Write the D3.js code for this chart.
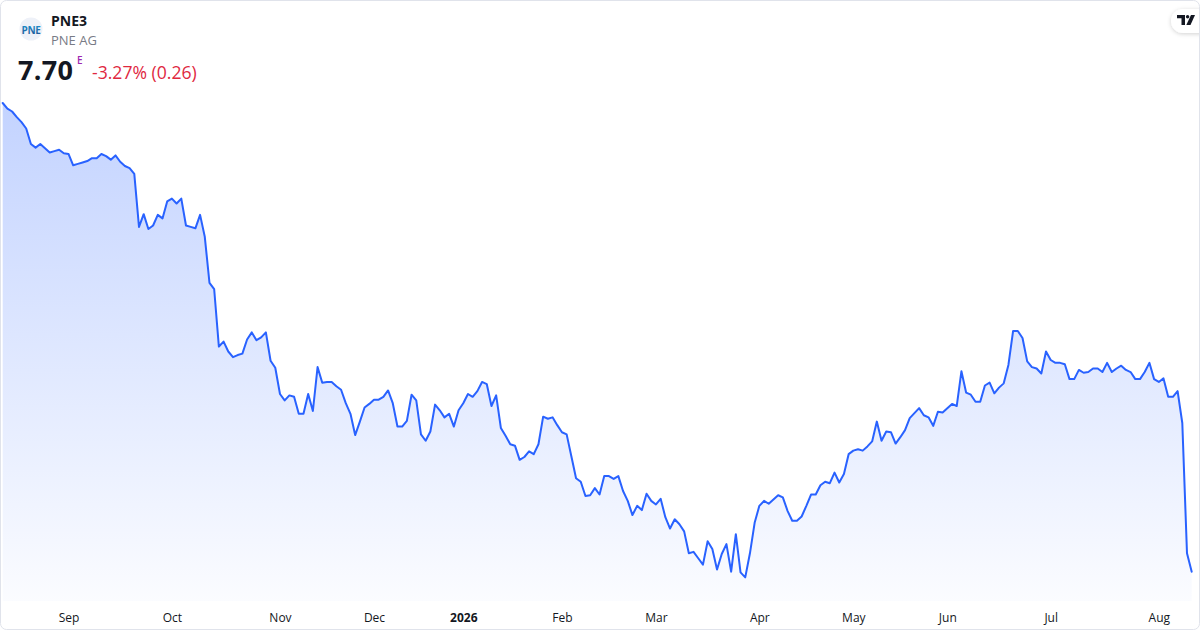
<!DOCTYPE html>
<html>
<head>
<meta charset="utf-8">
<script src="https://cdn.jsdelivr.net/npm/d3@7/dist/d3.min.js"></script>
<style>
  html, body { margin: 0; padding: 0; background: #ffffff; }
  svg { display: block; font-family: "Open Sans", "Noto Sans", sans-serif; }
</style>
</head>
<body>
<svg id="chart" width="1200" height="630"></svg>
<script>
// ---- Data (daily closes, trading-day index 0..253, Aug 12 2025 - Aug 12 2026) ----
const prices = [
  14.32,14.24,14.20,14.12,14.05,13.96,13.74,13.69,13.74,13.68,
  13.62,13.64,13.66,13.61,13.60,13.44,13.46,13.48,13.50,13.54,
  13.54,13.60,13.57,13.52,13.58,13.49,13.43,13.40,13.32,12.57,
  12.75,12.54,12.59,12.74,12.69,12.93,12.97,12.90,12.97,12.59,
  12.57,12.55,12.74,12.43,11.78,11.69,10.88,10.95,10.81,10.73,
  10.76,10.78,10.98,11.08,10.97,11.01,11.08,10.68,10.58,10.21,
  10.12,10.19,10.17,9.93,9.93,10.21,9.97,10.59,10.37,10.38,
  10.38,10.32,10.27,10.08,9.93,9.63,9.82,10.02,10.07,10.13,
  10.13,10.17,10.26,10.08,9.75,9.75,9.83,10.20,10.12,9.64,
  9.55,9.68,10.06,9.98,9.88,9.93,9.75,9.98,10.08,10.21,
  10.17,10.25,10.38,10.35,10.04,10.19,9.73,9.62,9.50,9.48,
  9.28,9.32,9.40,9.36,9.50,9.89,9.86,9.88,9.77,9.67,
  9.64,9.33,9.02,8.97,8.77,8.78,8.88,8.79,9.05,9.05,
  9.01,9.05,8.84,8.70,8.50,8.63,8.57,8.80,8.70,8.65,
  8.73,8.47,8.31,8.44,8.37,8.27,7.96,7.98,7.89,7.80,
  8.13,8.02,7.73,7.95,8.09,7.70,8.23,7.69,7.62,7.96,
  8.39,8.63,8.70,8.66,8.72,8.78,8.75,8.56,8.42,8.42,
  8.48,8.63,8.79,8.79,8.92,8.97,8.95,9.10,8.96,9.08,
  9.36,9.41,9.43,9.41,9.47,9.54,9.82,9.55,9.68,9.67,
  9.51,9.60,9.70,9.87,9.94,10.01,9.91,9.88,9.76,9.96,
  9.95,10.01,10.07,10.04,10.53,10.23,10.20,10.10,10.10,10.33,
  10.37,10.22,10.30,10.36,10.62,11.10,11.10,11.00,10.67,10.59,
  10.57,10.50,10.81,10.69,10.65,10.65,10.63,10.42,10.42,10.55,
  10.51,10.52,10.57,10.57,10.52,10.65,10.52,10.57,10.61,10.55,
  10.52,10.42,10.42,10.52,10.65,10.42,10.38,10.43,10.17,10.17,
  10.25,9.80,7.96,7.70
];
const tickIndex  = [14, 36, 59, 79, 98, 119, 139, 161, 181, 201, 223, 246];
const tickLabels = ["Sep","Oct","Nov","Dec","2026","Feb","Mar","Apr","May","Jun","Jul","Aug"];
const symbol = "PNE3";
const company = "PNE AG";
const lastPrice = "7.70";
const changeText = "-3.27% (0.26)";

// ---- Layout ----
const W = 1200, H = 630;
const svg = d3.select("#chart");

// card border
svg.append("rect")
  .attr("x", 0.5).attr("y", 0.5).attr("width", W - 1).attr("height", H - 1)
  .attr("rx", 6).attr("fill", "#ffffff").attr("stroke", "#e0e3eb");

const x = d3.scaleLinear().domain([0, prices.length - 1]).range([2.7, 1191.7]);
const y = d3.scaleLinear().domain([7.0, 14.5]).range([621.26, 90.26]);
const paneBottom = 601;

// gradient
const defs = svg.append("defs");
const grad = defs.append("linearGradient")
  .attr("id", "areaGrad").attr("gradientUnits", "userSpaceOnUse")
  .attr("x1", 0).attr("x2", 0).attr("y1", y(d3.max(prices))).attr("y2", paneBottom);
grad.append("stop").attr("offset", "0%").attr("stop-color", "#2962ff").attr("stop-opacity", 0.28);
grad.append("stop").attr("offset", "100%").attr("stop-color", "#2962ff").attr("stop-opacity", 0.02);

const shadow = defs.append("filter").attr("id", "shadow")
  .attr("x", "-50%").attr("y", "-50%").attr("width", "200%").attr("height", "200%");
shadow.append("feDropShadow").attr("dx", 0).attr("dy", 1).attr("stdDeviation", 2)
  .attr("flood-color", "#000").attr("flood-opacity", 0.18);

const clip = defs.append("clipPath").attr("id", "cardClip");
clip.append("rect").attr("x", 1).attr("y", 1).attr("width", W - 2).attr("height", H - 2).attr("rx", 6);

const area = d3.area()
  .x((d, i) => x(i)).y0(paneBottom).y1(d => y(d));
const line = d3.line()
  .x((d, i) => x(i)).y(d => y(d));

svg.append("path").datum(prices)
  .attr("d", area).attr("fill", "url(#areaGrad)");
svg.append("path").datum(prices)
  .attr("d", line).attr("fill", "none")
  .attr("stroke", "#2962ff").attr("stroke-width", 2)
  .attr("stroke-linejoin", "round").attr("stroke-linecap", "round");

// x axis
const xAxis = d3.axisBottom(x)
  .tickValues(tickIndex)
  .tickFormat((d, i) => tickLabels[i])
  .tickSize(0).tickPadding(0);
const gx = svg.append("g").attr("transform", "translate(0,613)").call(xAxis);
gx.select(".domain").remove();
gx.selectAll("text")
  .attr("dy", "0.71em")
  .attr("fill", "#131722")
  .style("font-size", "12px")
  .style("font-family", "\"Open Sans\", \"Noto Sans\", sans-serif")
  .style("font-weight", (d, i) => tickLabels[i] === "2026" ? "700" : "400");

// ---- Header ----
const logo = svg.append("g");
logo.append("circle").attr("cx", 31).attr("cy", 29).attr("r", 11.5).attr("fill", "#eef1f8");
const lg = defs.append("linearGradient").attr("id", "logoGrad")
  .attr("x1", 0).attr("x2", 0).attr("y1", 0).attr("y2", 1);
lg.append("stop").attr("offset", "0%").attr("stop-color", "#1a9bd7");
lg.append("stop").attr("offset", "100%").attr("stop-color", "#1f4f8f");
logo.append("text").attr("x", 31).attr("y", 33.5).attr("text-anchor", "middle")
  .attr("fill", "url(#logoGrad)").style("font-size", "10px").style("font-weight", "700")
  .style("font-family", "\"Open Sans\", sans-serif").style("letter-spacing", "-0.3px")
  .text("PNE");

svg.append("text").attr("x", 51).attr("y", 26)
  .attr("fill", "#131722").style("font-size", "14px").style("font-weight", "700")
  .text(symbol);
svg.append("text").attr("x", 51).attr("y", 45)
  .attr("fill", "#787b86").style("font-size", "13px")
  .text(company);
svg.append("text").attr("x", 18).attr("y", 80)
  .attr("fill", "#131722").style("font-size", "27px").style("font-weight", "700")
  .style("letter-spacing", "0.3px")
  .text(lastPrice);
svg.append("text").attr("x", 77).attr("y", 64)
  .attr("fill", "#9c27b0").style("font-size", "10px").style("font-weight", "600")
  .text("E");
svg.append("text").attr("x", 92).attr("y", 78.5)
  .attr("fill", "#e0283f").style("font-size", "17.6px")
  .text(changeText);

// TradingView badge
const tv = svg.append("g").attr("clip-path", "url(#cardClip)");
tv.append("rect").attr("x", 1171).attr("y", 9).attr("width", 50).attr("height", 24).attr("rx", 12)
  .attr("fill", "#ffffff").attr("filter", "url(#shadow)");
tv.append("path")
  .attr("d", "M1177,15 H1185 V25 H1181.5 V18.3 H1177 Z")
  .attr("fill", "#131722");
tv.append("circle").attr("cx", 1187.6).attr("cy", 16.7).attr("r", 1.7).attr("fill", "#131722");
tv.append("path")
  .attr("d", "M1191,15 H1195 L1190.5,25 H1186.3 Z")
  .attr("fill", "#131722");
</script>
</body>
</html>
